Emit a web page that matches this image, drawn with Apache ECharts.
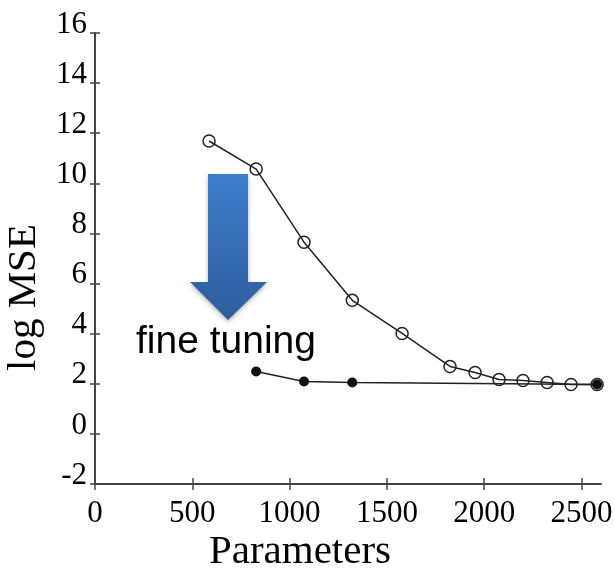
<!DOCTYPE html>
<html lang="en">
<head>
<meta charset="UTF-8">
<script src="https://cdn.jsdelivr.net/npm/echarts@6/dist/echarts.min.js"></script>
<style>
  * { margin: 0; padding: 0; }
  body { background: #fff; }
  #chart { width: 615px; height: 574px; }
</style>
</head>
<body>
<div id="chart"></div>
<script>
// values
const paramsOpen = [586, 828, 1074, 1322, 1578, 1824, 1953, 2076, 2199, 2323, 2446, 2580];
const mseOpen = [11.69, 10.57, 7.65, 5.33, 4.01, 2.69, 2.45, 2.17, 2.13, 2.05, 1.97, 1.97];
const paramsFine = [828, 1074, 1322, 2580];
const mseFine = [2.49, 2.09, 2.05, 1.97];
const xTicks = [0, 500, 1000, 1500, 2000, 2500];

const serif = 'Liberation Serif';
const lineColor = '#222';

const chart = echarts.init(document.getElementById('chart'));

const option = {
  animation: false,
  grid: { left: 95, right: 14, top: 33, bottom: 90, containLabel: false, outerBoundsMode: 'none' },
  xAxis: [{
    type: 'value',
    min: 0,
    max: 2600,
    name: 'Parameters',
    nameLocation: 'middle',
    nameMoveOverlap: false,
    nameGap: 48,
    nameTextStyle: { fontFamily: serif, fontSize: 41, color: '#000', padding: [0, 96, 0, 0] },
    axisLine: { show: true, onZero: false, lineStyle: { color: '#444', width: 2 } },
    axisTick: { show: true, length: 6, customValues: xTicks, lineStyle: { color: '#444', width: 1.5 } },
    axisLabel: {
      customValues: xTicks, margin: 14, fontFamily: serif, fontSize: 31, color: '#000',
      formatter: v => String(v)
    },
    splitLine: { show: false }
  }, {
    type: 'value',
    min: 0,
    max: 2600,
    position: 'bottom',
    axisLine: { show: false, onZero: false },
    axisTick: { show: true, inside: true, length: 6, customValues: xTicks, lineStyle: { color: '#444', width: 1.5 } },
    axisLabel: { show: false },
    splitLine: { show: false }
  }],
  yAxis: [{
    type: 'value',
    min: -2,
    max: 16,
    interval: 2,
    name: 'log MSE',
    nameLocation: 'middle',
    nameMoveOverlap: false,
    nameGap: 50,
    nameTextStyle: { fontFamily: serif, fontSize: 41, color: '#000', padding: [10, 78, 0, 0] },
    axisLine: { show: true, onZero: false, lineStyle: { color: '#444', width: 2 } },
    axisTick: { show: true, length: 5, lineStyle: { color: '#444', width: 1.5 } },
    axisLabel: {
      margin: 8, fontFamily: serif, fontSize: 31, color: '#000',
      verticalAlign: 'bottom', lineHeight: 17
    },
    splitLine: { show: false }
  }, {
    type: 'value',
    min: -2,
    max: 16,
    interval: 2,
    position: 'left',
    axisLine: { show: false, onZero: false },
    axisTick: { show: true, inside: true, length: 5, lineStyle: { color: '#444', width: 1.5 } },
    axisLabel: { show: false },
    splitLine: { show: false }
  }],
  graphic: [{
    type: 'polygon',
    shape: {
      points: [[208, 174], [248, 174], [248, 282], [267, 282], [228, 320], [190, 282], [208, 282]]
    },
    style: {
      fill: new echarts.graphic.LinearGradient(0, 0, 0, 1, [
        { offset: 0, color: '#3e7ecd' },
        { offset: 1, color: '#2d5c9c' }
      ]),
      shadowBlur: 4,
      shadowOffsetY: 2,
      shadowColor: 'rgba(0,0,0,0.3)'
    },
    z: 10
  }, {
    type: 'text',
    left: 136,
    top: 323,
    style: {
      text: 'fine tuning',
      fontFamily: 'Liberation Sans',
      fontSize: 39,
      fill: '#000'
    },
    z: 10
  }],
  series: [{
    type: 'line',
    data: paramsOpen.map((p, i) => [p, mseOpen[i]]),
    symbol: 'circle',
    symbolSize: 12,
    lineStyle: { color: lineColor, width: 1.5 },
    itemStyle: { color: 'transparent', borderColor: lineColor, borderWidth: 1.5 },
    z: 3
  }, {
    type: 'line',
    data: paramsFine.map((p, i) => [p, mseFine[i]]),
    symbol: 'circle',
    symbolSize: 10,
    lineStyle: { color: lineColor, width: 1.5 },
    itemStyle: { color: '#111', borderColor: '#111', borderWidth: 0 },
    z: 4
  }]
};

chart.setOption(option);
</script>
</body>
</html>
